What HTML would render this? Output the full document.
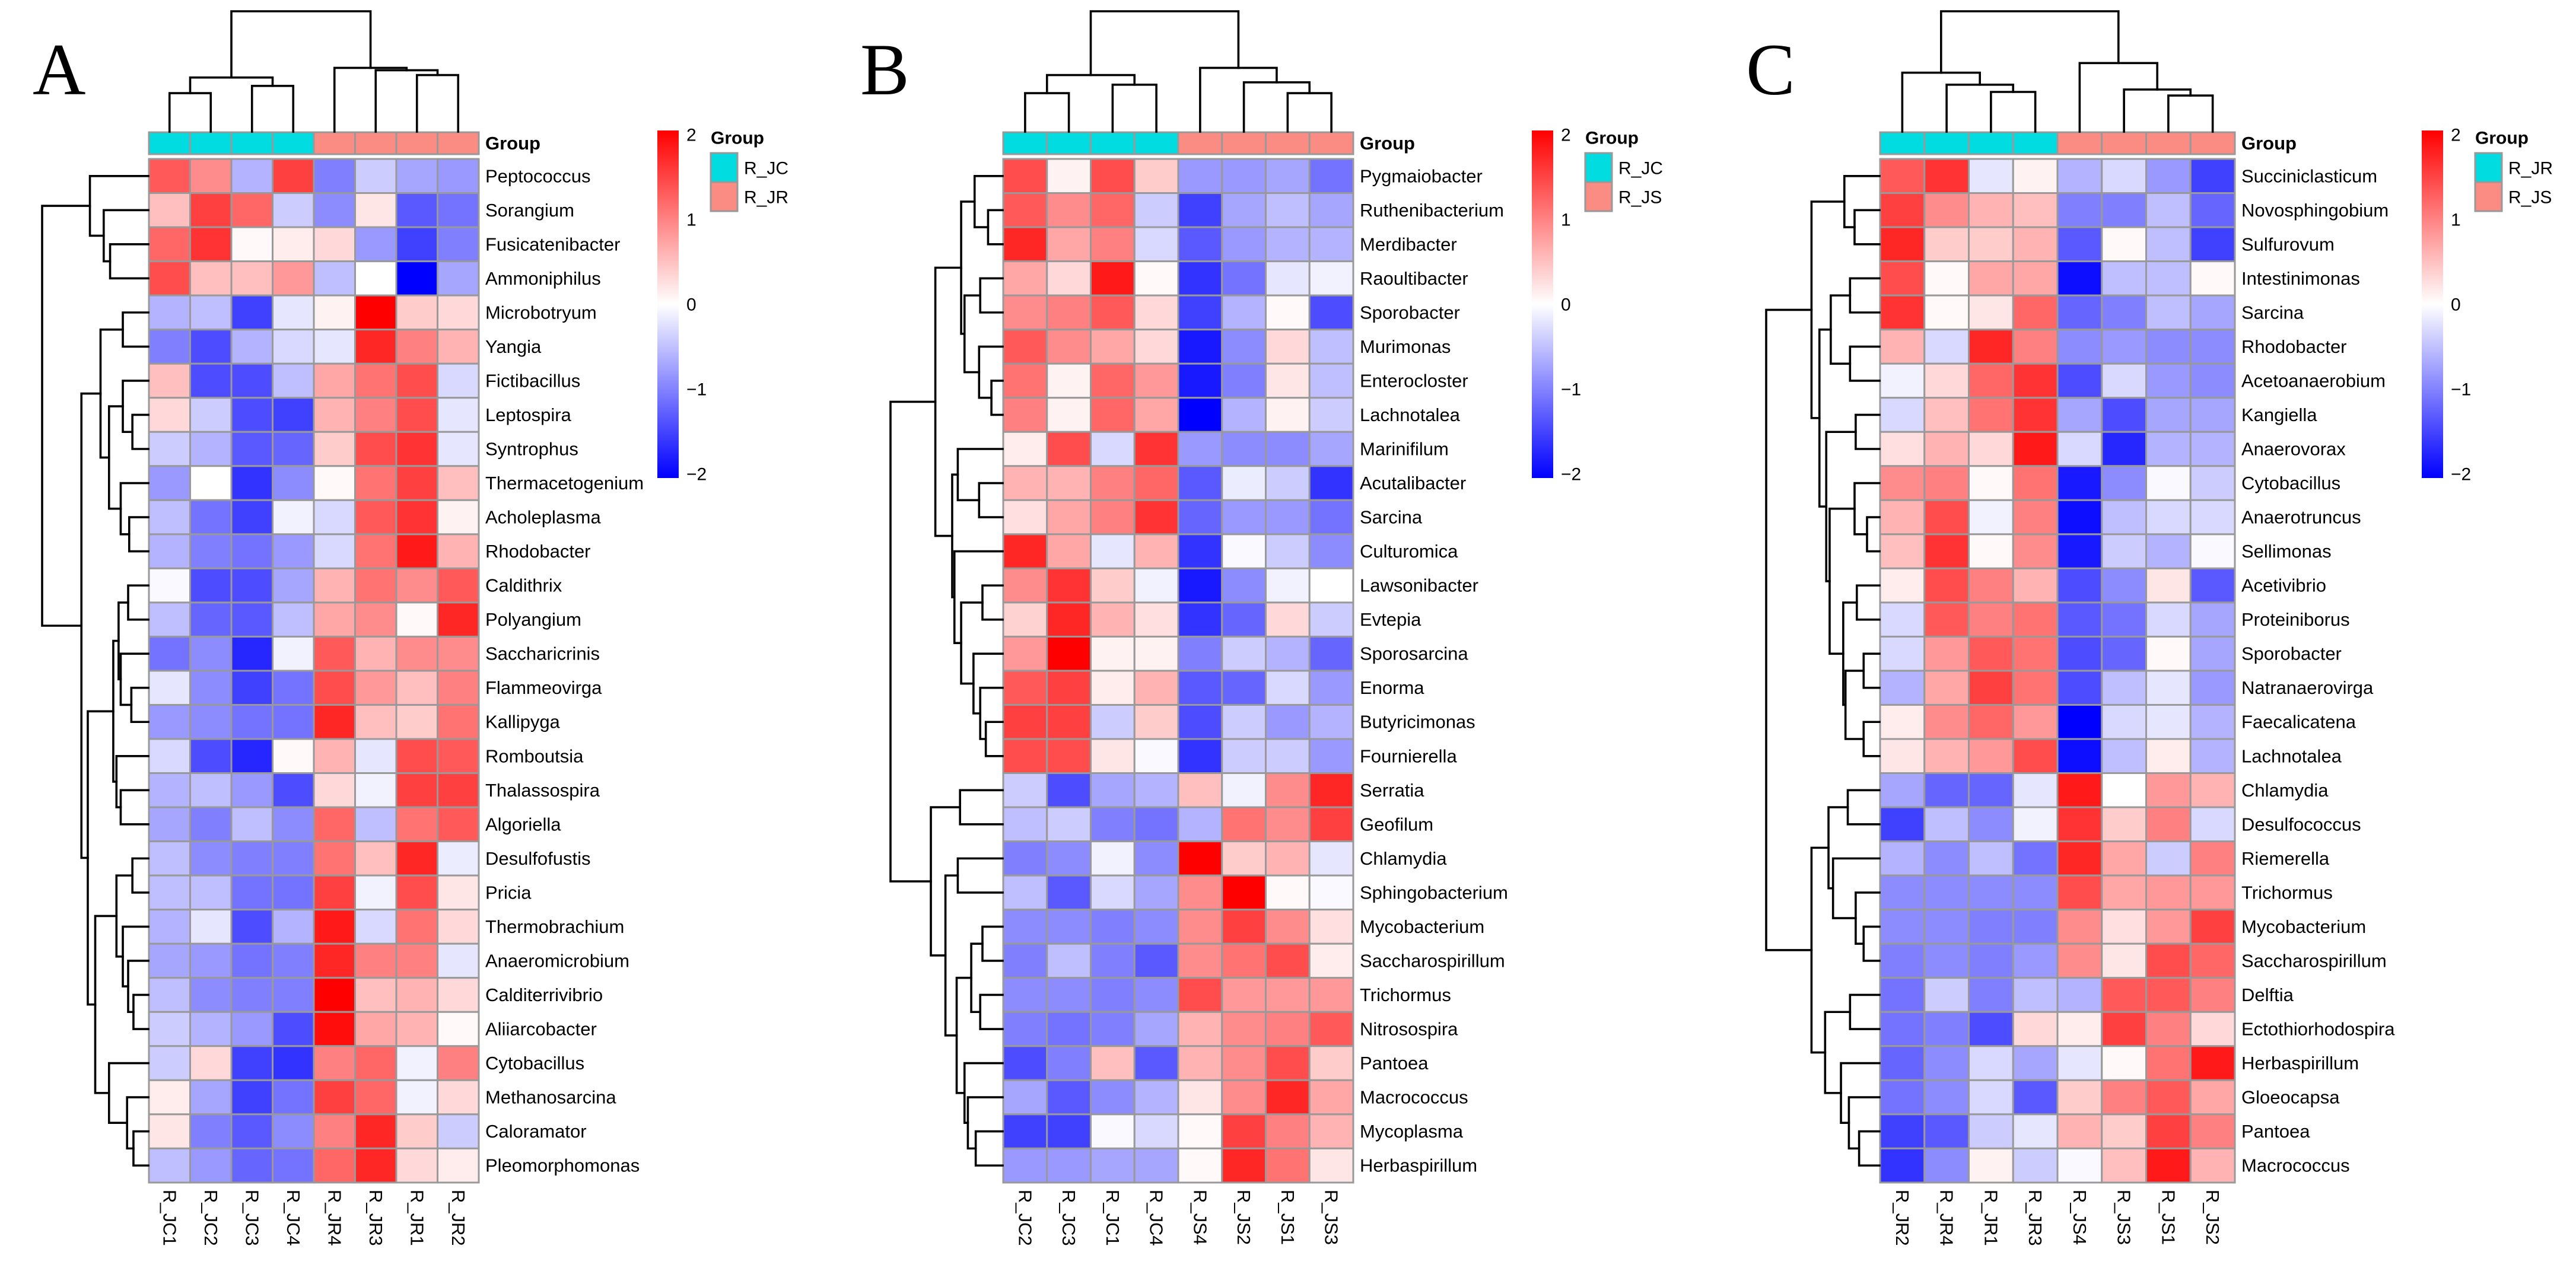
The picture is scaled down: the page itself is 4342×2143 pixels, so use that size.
<!DOCTYPE html>
<html><head><meta charset="utf-8"><style>
html,body{margin:0;padding:0;background:#fff;}
svg{display:block;}
text{font-family:"Liberation Sans",Arial,sans-serif;fill:#000;}
</style></head>
<body>
<svg id="chart" xmlns="http://www.w3.org/2000/svg" width="4342" height="2143" viewBox="0 0 4342 2143">
<rect x="0" y="0" width="4342" height="2143" fill="#fff"/>
</svg>
<script>
// ---------- DATA ----------
const rowsA = ["Peptococcus","Sorangium","Fusicatenibacter","Ammoniphilus","Microbotryum","Yangia","Fictibacillus","Leptospira","Syntrophus","Thermacetogenium","Acholeplasma","Rhodobacter","Caldithrix","Polyangium","Saccharicrinis","Flammeovirga","Kallipyga","Romboutsia","Thalassospira","Algoriella","Desulfofustis","Pricia","Thermobrachium","Anaeromicrobium","Calditerrivibrio","Aliiarcobacter","Cytobacillus","Methanosarcina","Caloramator","Pleomorphomonas"];
const colsA = ["R_JC1","R_JC2","R_JC3","R_JC4","R_JR4","R_JR3","R_JR1","R_JR2"];
const groupsA = [0,0,0,0,1,1,1,1];
const legendA = ["R_JC","R_JR"];
const valuesA = [
[1.3,0.9,-0.6,1.5,-1.0,-0.4,-0.7,-0.8],
[0.5,1.5,1.2,-0.4,-0.9,0.2,-1.3,-1.1],
[1.2,1.6,0.05,0.15,0.3,-0.8,-1.5,-1.0],
[1.4,0.5,0.5,0.8,-0.5,0,-2,-0.7],
[-0.6,-0.5,-1.5,-0.2,0.1,2,0.4,0.3],
[-1.0,-1.4,-0.6,-0.3,-0.2,1.7,1.0,0.6],
[0.5,-1.4,-1.4,-0.5,0.7,1.1,1.4,-0.3],
[0.3,-0.4,-1.4,-1.5,0.6,1.0,1.4,-0.2],
[-0.4,-0.6,-1.3,-1.2,0.4,1.4,1.6,-0.2],
[-0.8,0,-1.6,-0.9,0.05,1.1,1.5,0.5],
[-0.5,-1.1,-1.5,-0.1,-0.3,1.3,1.6,0.1],
[-0.6,-1.0,-1.1,-0.8,-0.3,1.1,1.8,0.6],
[-0.05,-1.4,-1.4,-0.7,0.6,1.1,0.9,1.3],
[-0.5,-1.2,-1.3,-0.5,0.7,0.9,0.05,1.7],
[-1.1,-0.9,-1.7,-0.1,1.3,0.6,0.9,0.9],
[-0.2,-0.9,-1.5,-1.1,1.4,0.8,0.5,1.0],
[-0.8,-0.9,-1.1,-1.1,1.7,0.5,0.4,1.1],
[-0.3,-1.4,-1.7,0.05,0.6,-0.2,1.4,1.3],
[-0.6,-0.5,-0.8,-1.4,0.3,-0.1,1.5,1.5],
[-0.7,-1.0,-0.5,-0.9,1.2,-0.5,1.1,1.3],
[-0.5,-0.9,-1.0,-1.0,1.1,0.5,1.7,-0.15],
[-0.5,-0.5,-1.1,-1.1,1.5,-0.1,1.4,0.2],
[-0.6,-0.2,-1.4,-0.6,1.8,-0.3,1.1,0.3],
[-0.7,-0.8,-1.1,-1.0,1.7,1.0,1.0,-0.2],
[-0.5,-0.9,-1.0,-1.0,2.0,0.5,0.6,0.3],
[-0.4,-0.6,-0.8,-1.4,1.9,0.7,0.6,0.05],
[-0.4,0.3,-1.5,-1.6,1.0,1.2,-0.1,1.0],
[0.15,-0.7,-1.5,-1.1,1.5,1.2,-0.1,0.3],
[0.2,-1.0,-1.3,-0.9,1.0,1.7,0.4,-0.4],
[-0.5,-0.8,-1.2,-1.1,1.2,1.7,0.3,0.15]];
const rowTreeA = [[0,[1,[2,3,.36],.42],.55],[[[4,5,.24],[[6,[7,8,.15],.24],[9,[10,11,.18],.26],.37],.45],[[[[12,13,.19],[14,[15,16,.16],.26],.28],[17,[18,19,.26],.3],.33],[[[20,21,.15],[22,[23,[24,25,.14],.19],.24],.3],[26,[27,[28,29,.14],.2],.37],.5],.57],.63],1];
const colTreeA = [[[0,1,.32],[2,3,.38],.45],[4,[5,[6,7,.47],.51],.53],1];

const rowsB = ["Pygmaiobacter","Ruthenibacterium","Merdibacter","Raoultibacter","Sporobacter","Murimonas","Enterocloster","Lachnotalea","Marinifilum","Acutalibacter","Sarcina","Culturomica","Lawsonibacter","Evtepia","Sporosarcina","Enorma","Butyricimonas","Fournierella","Serratia","Geofilum","Chlamydia","Sphingobacterium","Mycobacterium","Saccharospirillum","Trichormus","Nitrosospira","Pantoea","Macrococcus","Mycoplasma","Herbaspirillum"];
const colsB = ["R_JC2","R_JC3","R_JC1","R_JC4","R_JS4","R_JS2","R_JS1","R_JS3"];
const groupsB = [0,0,0,0,1,1,1,1];
const legendB = ["R_JC","R_JS"];
const valuesB = [
[1.4,0.1,1.4,0.4,-0.8,-0.8,-0.7,-1.1],
[1.3,0.9,1.2,-0.4,-1.5,-0.7,-0.5,-0.7],
[1.7,0.7,1.0,-0.3,-1.3,-0.8,-0.6,-0.6],
[0.7,0.3,1.8,0.05,-1.6,-1.1,-0.2,-0.1],
[0.9,1.0,1.3,0.3,-1.5,-0.6,0.05,-1.4],
[1.3,0.9,0.7,0.3,-1.8,-0.9,0.3,-0.5],
[1.1,0.1,1.2,0.8,-1.8,-1.0,0.2,-0.5],
[1.0,0.1,1.2,0.7,-2.0,-0.6,0.1,-0.4],
[0.15,1.4,-0.3,1.6,-0.8,-0.9,-0.9,-0.7],
[0.6,0.6,1.0,1.2,-1.3,-0.15,-0.4,-1.6],
[0.25,0.7,1.0,1.6,-1.2,-0.8,-0.8,-1.1],
[1.7,0.7,-0.2,0.6,-1.6,-0.05,-0.4,-0.9],
[0.9,1.6,0.4,-0.1,-1.8,-0.9,-0.1,0],
[0.35,1.7,0.6,0.25,-1.6,-1.2,0.3,-0.4],
[0.8,2.0,0.1,0.1,-1.0,-0.4,-0.6,-1.2],
[1.3,1.5,0.15,0.6,-1.3,-1.2,-0.3,-0.8],
[1.5,1.5,-0.4,0.4,-1.4,-0.4,-0.8,-0.6],
[1.4,1.4,0.2,-0.05,-1.6,-0.4,-0.4,-0.8],
[-0.4,-1.4,-0.7,-0.6,0.5,-0.1,0.9,1.7],
[-0.5,-0.4,-1.0,-1.1,-0.6,1.1,0.9,1.5],
[-1.0,-0.9,-0.1,-0.9,2.0,0.4,0.6,-0.2],
[-0.5,-1.3,-0.3,-0.7,0.9,2.0,0.05,-0.05],
[-0.9,-0.9,-1.0,-0.9,0.9,1.5,0.9,0.25],
[-1.0,-0.5,-1.0,-1.3,0.9,1.1,1.4,0.15],
[-0.9,-0.9,-1.0,-0.9,1.4,0.8,0.8,0.8],
[-1.0,-1.1,-1.0,-0.7,0.6,0.9,1.0,1.3],
[-1.4,-1.0,0.5,-1.3,0.6,0.9,1.4,0.4],
[-0.7,-1.3,-0.9,-0.6,0.2,0.9,1.7,0.7],
[-1.5,-1.5,-0.05,-0.3,0.05,1.5,1.0,0.6],
[-0.8,-0.8,-0.7,-0.7,0.05,1.7,1.1,0.2]];
const rowTreeB = [[[[0,[1,2,.13],.25],[[3,4,.2],[5,[6,7,.1],.21],.34],.37],[[8,[9,10,.21],.4],[11,[[12,13,.18],[14,[15,[16,17,.15],.2],.26],.37],.43],.45],.6],[[18,19,.38],[[20,21,.4],[[[22,23,.18],[24,25,.2],.28],[26,[27,[28,29,.24],.31],.34],.41],.51],.64],1];
const colTreeB = [[[0,1,.32],[2,3,.39],.47],[4,[5,[6,7,.32],.41],.53],1];

const rowsC = ["Succiniclasticum","Novosphingobium","Sulfurovum","Intestinimonas","Sarcina","Rhodobacter","Acetoanaerobium","Kangiella","Anaerovorax","Cytobacillus","Anaerotruncus","Sellimonas","Acetivibrio","Proteiniborus","Sporobacter","Natranaerovirga","Faecalicatena","Lachnotalea","Chlamydia","Desulfococcus","Riemerella","Trichormus","Mycobacterium","Saccharospirillum","Delftia","Ectothiorhodospira","Herbaspirillum","Gloeocapsa","Pantoea","Macrococcus"];
const colsC = ["R_JR2","R_JR4","R_JR1","R_JR3","R_JS4","R_JS3","R_JS1","R_JS2"];
const groupsC = [0,0,0,0,1,1,1,1];
const legendC = ["R_JR","R_JS"];
const valuesC = [
[1.3,1.6,-0.2,0.1,-0.6,-0.3,-0.8,-1.5],
[1.5,0.9,0.6,0.5,-1.0,-1.0,-0.5,-1.2],
[1.7,0.4,0.4,0.6,-1.3,0.05,-0.5,-1.5],
[1.4,0.05,0.7,0.7,-1.9,-0.5,-0.5,0.05],
[1.6,0.05,0.2,1.2,-1.2,-1.0,-0.5,-0.7],
[0.6,-0.3,1.7,1.0,-0.9,-0.8,-0.9,-0.9],
[-0.1,0.3,1.2,1.6,-1.4,-0.3,-0.8,-0.9],
[-0.3,0.5,1.1,1.6,-0.7,-1.4,-0.7,-0.7],
[0.25,0.6,0.3,1.8,-0.3,-1.7,-0.6,-0.6],
[0.9,1.0,0.05,1.1,-1.8,-0.9,-0.05,-0.4],
[0.6,1.4,-0.1,1.0,-1.9,-0.5,-0.3,-0.3],
[0.5,1.6,0.05,0.9,-1.8,-0.4,-0.6,-0.05],
[0.15,1.4,1.0,0.6,-1.4,-0.9,0.2,-1.3],
[-0.3,1.3,1.0,1.1,-1.3,-1.1,-0.3,-0.7],
[-0.3,0.8,1.3,1.1,-1.4,-1.2,0.05,-0.7],
[-0.6,0.7,1.5,1.1,-1.4,-0.5,-0.2,-0.8],
[0.15,0.9,1.2,0.8,-2.0,-0.3,-0.2,-0.6],
[0.2,0.6,0.8,1.4,-1.9,-0.5,0.15,-0.6],
[-0.7,-1.2,-1.2,-0.2,1.8,0,0.8,0.6],
[-1.5,-0.5,-0.9,-0.1,1.6,0.4,1.0,-0.3],
[-0.6,-0.9,-0.5,-1.1,1.7,0.7,-0.4,1.0],
[-0.9,-0.9,-0.9,-0.9,1.4,0.7,0.8,0.8],
[-0.9,-0.9,-1.0,-1.0,0.9,0.25,0.8,1.5],
[-1.0,-0.9,-1.0,-0.8,0.9,0.2,1.4,1.2],
[-1.1,-0.4,-1.0,-0.5,-0.6,1.3,1.3,1.0],
[-1.1,-1.0,-1.4,0.3,0.15,1.5,1.0,0.3],
[-1.2,-0.9,-0.3,-0.7,-0.2,0.05,1.1,1.8],
[-1.1,-0.9,-0.3,-1.3,0.4,1.0,1.3,0.7],
[-1.5,-1.3,-0.4,-0.2,0.6,0.4,1.5,1.0],
[-1.6,-0.9,0.1,-0.4,-0.05,0.5,1.8,0.6]];
const rowTreeC = [[[0,[1,2,.22],.31],[[[3,4,.26],[5,6,.26],.43],[[7,8,.21],[[9,[10,11,.11],.22],[[12,13,.2],[[14,15,.14],[16,17,.14],.3],.32],.44],.47],.53],.6],[[[18,19,.28],[20,[21,[22,23,.14],.21],.41],.45],[[24,25,.26],[26,[27,[28,29,.18],.27],.34],.48],.6],1];
const colTreeC = [[0,[1,[2,3,.33],.39],.49],[4,[5,[6,7,.3],.35],.57],1];

const colorTicks = [2,1,0,-1,-2];

// ---------- DRAWING ----------
const NS = "http://www.w3.org/2000/svg";
const svg = document.getElementById("chart");
function mk(tag, attrs, parent){
  const e = document.createElementNS(NS, tag);
  for (const k in attrs) e.setAttribute(k, attrs[k]);
  (parent||svg).appendChild(e);
  return e;
}
function valColor(v){
  v = Math.max(-2, Math.min(2, v));
  let r,g,b;
  if (v >= 0){ const t = v/2; r = 255; g = Math.round(255*(1-t)); b = g; }
  else { const t = -v/2; b = 255; r = Math.round(255*(1-t)); g = r; }
  return `rgb(${r},${g},${b})`;
}
const GROUP_COLORS = ["#00DCDF","#FA8C84"];
const TOP = 268, RH = 57.53, BAR_TOP = 223, BAR_H = 37, DEND_TOP = 19;

function drawTree(g, tree, leafPos, hToCoord, vertical){
  // returns {pos, h}
  function rec(node){
    if (typeof node === "number") return {pos: leafPos(node), h: 0};
    const a = rec(node[0]), b = rec(node[1]), h = node[2];
    const H = hToCoord(h), Ha = hToCoord(a.h), Hb = hToCoord(b.h);
    let d;
    if (vertical) d = `M${a.pos},${Ha}V${H}H${b.pos}V${Hb}`;
    else d = `M${Ha},${a.pos}H${H}V${b.pos}H${Hb}`;
    const p = mk("path", {d: d, fill: "none", stroke: "#000", "stroke-width": 3.6, "stroke-linecap": "square"}, g);
    
    
    return {pos: (a.pos + b.pos)/2, h: h};
  }
  rec(tree);
}

function panel(cfg){
  const g = mk("g", {});
  
  
  const x0 = cfg.x0, cw = cfg.cw, nC = cfg.cols.length, nR = cfg.rows.length;
  const right = x0 + nC*cw, bottom = TOP + nR*RH;
  // letter
  const L = mk("text", {x: cfg.letterX, y: 159, "font-size": 124, style: "font-family:'Liberation Serif',serif"}, g);
  L.textContent = cfg.letter;
  
  
  // cells
  const cells = mk("g", {}, g);
  
  
  cfg.values.forEach((row, i) => row.forEach((v, j) => {
    const c = mk("rect", {x: x0 + j*cw, y: TOP + i*RH, width: cw, height: RH, fill: valColor(v), stroke: "#999", "stroke-width": 3}, cells);
    
    
  }));
  // group bar
  cfg.groups.forEach((gi, j) => {
    const c = mk("rect", {x: x0 + j*cw, y: BAR_TOP, width: cw, height: BAR_H, fill: GROUP_COLORS[gi], stroke: "#999", "stroke-width": 3}, g);
    
    
  });
  const gl = mk("text", {x: right + 11, y: BAR_TOP + BAR_H/2, "font-size": 31, "font-weight": "bold", "dominant-baseline": "central"}, g);
  gl.textContent = "Group";
  
  
  // row labels
  cfg.rows.forEach((name, i) => {
    const t = mk("text", {x: right + 11, y: TOP + (i+0.5)*RH, "font-size": 31, "dominant-baseline": "central"}, g);
    t.textContent = name;
    
    
  });
  // col labels
  cfg.cols.forEach((name, j) => {
    const cx = x0 + (j+0.5)*cw, y = bottom + 12;
    const t = mk("text", {x: cx, y: y, "font-size": 31, "dominant-baseline": "central", transform: `rotate(90 ${cx} ${y})`}, g);
    t.textContent = name;
    
    
  });
  // dendrograms
  const cd = mk("g", {}, g);
  
  
  drawTree(cd, cfg.colTree, j => x0 + (j+0.5)*cw, h => BAR_TOP - 1 - h*(BAR_TOP - 1 - DEND_TOP), true);
  const rd = mk("g", {}, g);
  
  
  drawTree(rd, cfg.rowTree, i => TOP + (i+0.5)*RH, h => x0 - 1 - h*(x0 - 1 - cfg.rootX), false);
  // colour bar
  const gid = "grad" + cfg.letter;
  const defs = mk("defs", {}, g);
  const lg = mk("linearGradient", {id: gid, x1: 0, y1: 0, x2: 0, y2: 1}, defs);
  mk("stop", {offset: "0", "stop-color": "#ff0000"}, lg);
  mk("stop", {offset: "0.5", "stop-color": "#ffffff"}, lg);
  mk("stop", {offset: "1", "stop-color": "#0000ff"}, lg);
  const CB_TOP = 220, CB_BOT = 806;
  const cb = mk("rect", {x: cfg.cbX, y: CB_TOP, width: 36, height: CB_BOT - CB_TOP, fill: `url(#${gid})`}, g);
  
  
  const vy = v => 514 - v*143;
  colorTicks.forEach(v => {
    const t = mk("text", {x: cfg.cbX + 49, y: vy(v), "font-size": 30, "dominant-baseline": "central"}, g);
    t.textContent = v < 0 ? "\u2212" + (-v) : String(v);
    
    
  });
  // group legend
  const lx = cfg.cbX + 90;
  const lt = mk("text", {x: lx, y: 233, "font-size": 30, "font-weight": "bold", "dominant-baseline": "central"}, g);
  lt.textContent = "Group";
  
  
  cfg.legend.forEach((name, k) => {
    const r = mk("rect", {x: lx, y: 258 + k*49, width: 45, height: 49, fill: GROUP_COLORS[k], stroke: "#999", "stroke-width": 3}, g);
    
    
    const t = mk("text", {x: lx + 56, y: 284 + k*49, "font-size": 30, "dominant-baseline": "central"}, g);
    t.textContent = name;
    
    
  });
}

panel({letter: "A", letterX: 55, x0: 251, cw: 69.5, rootX: 71, cbX: 1108, rows: rowsA, cols: colsA, groups: groupsA, legend: legendA, values: valuesA, rowTree: rowTreeA, colTree: colTreeA});
panel({letter: "B", letterX: 1450, x0: 1691, cw: 73.75, rootX: 1501, cbX: 2582, rows: rowsB, cols: colsB, groups: groupsB, legend: legendB, values: valuesB, rowTree: rowTreeB, colTree: colTreeB});
panel({letter: "C", letterX: 2943, x0: 3169, cw: 74.75, rootX: 2977, cbX: 4082, rows: rowsC, cols: colsC, groups: groupsC, legend: legendC, values: valuesC, rowTree: rowTreeC, colTree: colTreeC});
</script>
</body></html>
